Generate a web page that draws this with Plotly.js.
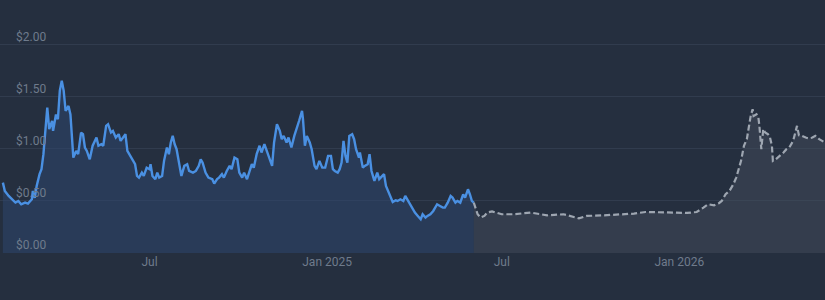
<!DOCTYPE html>
<html>
<head>
<meta charset="utf-8">
<script src="https://cdn.plot.ly/plotly-3.0.1.min.js"></script>
<style>
  html, body { margin: 0; padding: 0; background: #252f3f; }
  #chart { width: 825px; height: 300px; }
</style>
</head>
<body>
<div id="chart"></div>
<script>
const histDates = [
  '2024-01-31','2024-02-02','2024-02-06','2024-02-09','2024-02-13','2024-02-16','2024-02-19','2024-02-23','2024-02-26','2024-03-01',
  '2024-03-02','2024-03-04','2024-03-06','2024-03-09','2024-03-11','2024-03-13','2024-03-15','2024-03-17','2024-03-19','2024-03-22',
  '2024-03-23','2024-03-26','2024-03-28','2024-03-30','2024-04-01','2024-04-03','2024-04-05','2024-04-08','2024-04-10','2024-04-13',
  '2024-04-16','2024-04-18','2024-04-21','2024-04-23','2024-04-25','2024-04-27','2024-04-30','2024-05-03','2024-05-07','2024-05-09',
  '2024-05-12','2024-05-14','2024-05-17','2024-05-19','2024-05-22','2024-05-24','2024-05-27','2024-05-30','2024-06-01','2024-06-04',
  '2024-06-06','2024-06-08','2024-06-11','2024-06-14','2024-06-16','2024-06-18','2024-06-20','2024-06-23','2024-06-25','2024-06-28',
  '2024-07-01','2024-07-02','2024-07-04','2024-07-07','2024-07-09','2024-07-11','2024-07-14','2024-07-16','2024-07-19','2024-07-21',
  '2024-07-23','2024-07-25','2024-07-27','2024-07-29','2024-08-01','2024-08-03','2024-08-06','2024-08-09','2024-08-11','2024-08-15',
  '2024-08-18','2024-08-21','2024-08-23','2024-08-25','2024-08-28','2024-08-31','2024-09-04','2024-09-06','2024-09-09','2024-09-11',
  '2024-09-14','2024-09-16','2024-09-19','2024-09-22','2024-09-24','2024-09-27','2024-09-30','2024-10-02','2024-10-05','2024-10-07',
  '2024-10-10','2024-10-12','2024-10-15','2024-10-17','2024-10-20','2024-10-23','2024-10-25','2024-10-28','2024-10-31','2024-11-02',
  '2024-11-05','2024-11-07','2024-11-10','2024-11-13','2024-11-15','2024-11-17','2024-11-20','2024-11-22','2024-11-25','2024-11-28',
  '2024-12-01','2024-12-03','2024-12-06','2024-12-07','2024-12-09','2024-12-11','2024-12-14','2024-12-16','2024-12-19','2024-12-21',
  '2024-12-24','2024-12-27','2024-12-30','2025-01-02','2025-01-05','2025-01-07','2025-01-09','2025-01-12','2025-01-14','2025-01-16',
  '2025-01-18','2025-01-20','2025-01-22','2025-01-24','2025-01-27','2025-01-29','2025-01-31','2025-02-03','2025-02-04','2025-02-07',
  '2025-02-09','2025-02-12','2025-02-14','2025-02-16','2025-02-19','2025-02-22','2025-02-24','2025-02-27','2025-03-01','2025-03-03',
  '2025-03-06','2025-03-08','2025-03-10','2025-03-13','2025-03-15','2025-03-18','2025-03-21','2025-03-23','2025-03-25','2025-03-28',
  '2025-03-31','2025-04-02','2025-04-05','2025-04-08','2025-04-10','2025-04-13','2025-04-15','2025-04-18','2025-04-21','2025-04-23',
  '2025-04-25','2025-04-28','2025-05-01','2025-05-03','2025-05-06','2025-05-09','2025-05-11','2025-05-14','2025-05-16','2025-05-19',
  '2025-05-22','2025-05-24','2025-05-27','2025-05-29','2025-05-31','2025-06-02'
];
const histPrices = [
  0.676,0.596,0.548,0.516,0.484,0.500,0.468,0.484,0.474,0.516,
  0.596,0.530,0.644,0.757,0.805,0.949,1.173,1.397,1.190,1.270,
  1.173,1.330,1.285,1.560,1.654,1.560,1.365,1.413,1.330,0.916,
  0.980,0.950,1.157,1.141,1.013,0.980,0.900,1.030,1.109,1.030,
  1.045,1.030,1.221,1.237,1.157,1.173,1.109,1.141,1.077,1.109,
  1.141,0.980,0.933,0.885,0.853,0.740,0.724,0.772,0.740,0.820,
  0.805,0.853,0.740,0.709,0.772,0.724,0.740,0.885,1.013,0.949,
  1.061,1.125,1.045,0.997,0.853,0.740,0.837,0.853,0.788,0.772,
  0.788,0.837,0.900,0.868,0.772,0.724,0.709,0.667,0.709,0.724,
  0.757,0.724,0.788,0.837,0.805,0.916,0.900,0.772,0.724,0.772,
  0.709,0.772,0.853,0.820,0.949,1.030,0.965,1.045,0.965,0.900,
  0.837,1.061,1.237,1.173,1.093,1.125,1.061,1.109,1.013,1.125,
  1.205,1.270,1.365,1.285,1.030,1.125,1.061,0.997,0.837,0.805,
  0.885,0.820,0.820,0.933,0.933,0.805,0.788,0.772,0.805,0.868,
  1.077,0.933,0.868,1.125,1.141,1.093,0.997,0.916,0.965,0.820,
  0.837,0.853,0.949,0.788,0.692,0.772,0.709,0.740,0.757,0.644,
  0.580,0.548,0.490,0.507,0.500,0.516,0.500,0.548,0.516,0.468,
  0.420,0.388,0.356,0.324,0.372,0.340,0.356,0.372,0.404,0.436,
  0.468,0.452,0.436,0.436,0.484,0.548,0.532,0.484,0.500,0.484,
  0.564,0.532,0.612,0.564,0.500,0.484
];
const fcDates = [
  '2025-06-02','2025-06-04','2025-06-06','2025-06-09','2025-06-13','2025-06-16','2025-06-21','2025-06-25','2025-07-01','2025-07-13',
  '2025-07-31','2025-08-17','2025-09-03','2025-09-19','2025-09-27','2025-10-15','2025-11-01','2025-11-15','2025-11-27','2025-12-12',
  '2025-12-26','2026-01-09','2026-01-19','2026-01-26','2026-01-31','2026-02-06','2026-02-11','2026-02-14','2026-02-18','2026-02-22',
  '2026-02-26','2026-03-01','2026-03-04','2026-03-06','2026-03-09','2026-03-12','2026-03-14','2026-03-16','2026-03-18','2026-03-19',
  '2026-03-22','2026-03-24','2026-03-25','2026-03-27','2026-03-29','2026-03-31','2026-04-03','2026-04-05','2026-04-07','2026-04-08',
  '2026-04-11','2026-04-13','2026-04-16','2026-04-19','2026-04-22','2026-04-25','2026-04-29','2026-05-01','2026-05-03','2026-05-05',
  '2026-05-08','2026-05-12','2026-05-15','2026-05-19','2026-05-22','2026-05-26','2026-05-29','2026-06-01'
];
const fcPrices = [
  0.484,0.420,0.372,0.340,0.356,0.388,0.400,0.388,0.372,0.372,
  0.388,0.362,0.372,0.333,0.356,0.362,0.372,0.378,0.394,0.388,
  0.388,0.385,0.394,0.436,0.468,0.458,0.478,0.500,0.564,0.596,
  0.660,0.724,0.820,0.885,1.030,1.093,1.205,1.317,1.381,1.317,
  1.333,1.300,1.221,0.997,1.190,1.157,1.141,1.109,1.030,0.885,
  0.900,0.916,0.933,0.965,0.997,1.013,1.077,1.141,1.221,1.130,
  1.125,1.109,1.100,1.109,1.125,1.093,1.077,1.061
];
const yTickVals = [0, 0.5, 1, 1.5, 2];
const yTickText = ['$0.00', '$0.50', '$1.00', '$1.50', '$2.00'];
const xTickVals = ['2024-07-01', '2025-01-01', '2025-07-01', '2026-01-01'];
const xTickText = ['Jul', 'Jan 2025', 'Jul', 'Jan 2026'];

const traces = [
  {
    x: histDates, y: histPrices, type: 'scatter', mode: 'lines',
    line: { color: '#4a90e2', width: 2.4 },
    fill: 'tozeroy', fillcolor: 'rgba(45,70,110,0.55)',
    hoverinfo: 'skip'
  },
  {
    x: fcDates, y: fcPrices, type: 'scatter', mode: 'lines',
    line: { color: '#9ea6b1', width: 2.2, dash: '6px,3px' },
    fill: 'tozeroy', fillcolor: 'rgba(70,80,96,0.45)',
    hoverinfo: 'skip'
  }
];

const layout = {
  width: 825, height: 300,
  margin: { l: 0, r: 0, t: 0, b: 47 },
  paper_bgcolor: '#252f3f',
  plot_bgcolor: '#252f3f',
  showlegend: false,
  font: { family: 'Roboto, sans-serif', size: 12, color: '#6f7b8c' },
  xaxis: {
    type: 'date',
    range: ['2024-01-28', '2026-06-01'],
    tickmode: 'array', tickvals: xTickVals, ticktext: xTickText,
    showgrid: false, zeroline: false, showline: false, ticks: '',
    tickfont: { family: 'Roboto, sans-serif', size: 12, color: '#6f7b8c' }
  },
  yaxis: {
    range: [0, 2.43],
    tickmode: 'array', tickvals: yTickVals, ticktext: yTickText,
    showgrid: true, gridcolor: '#313c4e', gridwidth: 1,
    zeroline: false, showline: false, ticks: '',
    ticklabelposition: 'inside top',
    ticklabelstandoff: 13,
    tickfont: { family: 'Roboto, sans-serif', size: 12, color: '#6f7b8c' }
  }
};

Plotly.newPlot('chart', traces, layout, { displayModeBar: false, staticPlot: true });
</script>
</body>
</html>
